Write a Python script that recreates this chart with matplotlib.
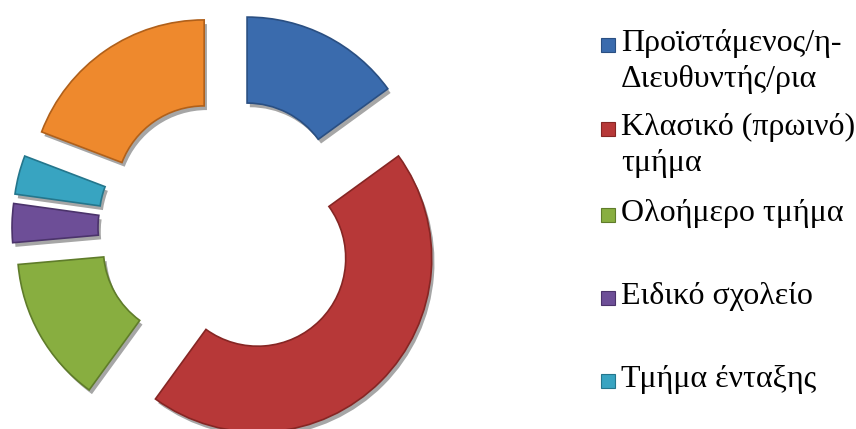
import matplotlib.pyplot as plt
from matplotlib.patches import Rectangle
import matplotlib.patheffects as pe

plt.rcParams["font.family"] = ["Liberation Serif", "DejaVu Serif"]

# share of each role (percent)
categories = [
    "Προϊστάμενος/η-\nΔιευθυντής/ρια",
    "Κλασικό (πρωινό)\nτμήμα",
    "Ολοήμερο τμήμα",
    "Ειδικό σχολείο",
    "Τμήμα ένταξης",
    "Άλλο",
]
values = [15.0, 45.0, 13.6, 3.6, 3.6, 19.2]
colors = ["#3A6BAD", "#B73838", "#88AE40", "#6D4E97", "#38A4C1", "#EE892D"]
edge_colors = ["#2A4F82", "#862624", "#5F7C2A", "#4B336B", "#24768C", "#B0601A"]
# the last slice is not listed in the legend
n_legend = 5

W, H = 856, 429
fig = plt.figure(figsize=(W / 100, H / 100), dpi=100)
ax = fig.add_axes([0, 0, 1, 1])

cx, cy = 228, H - 228.5
radius = 174
ring = 86
offset = 42

wedges, _ = ax.pie(
    values,
    colors=colors,
    startangle=90,
    counterclock=False,
    radius=radius,
    center=(cx, cy),
    explode=[offset] * len(values),
    wedgeprops=dict(width=ring, linewidth=1.2),
)
for w, ec in zip(wedges, edge_colors):
    w.set_edgecolor(ec)
    w.set_path_effects([
        pe.SimplePatchShadow(offset=(2, -3), alpha=0.35, shadow_rgbFace="k"),
        pe.Normal(),
    ])

ax.set_xlim(0, W)
ax.set_ylim(0, H)
ax.set_aspect("equal")
ax.axis("off")

# legend drawn by hand so multi-line entries sit like the chart tool's
line_y = [45, 129, 215, 298, 381]
box = 14
for i in range(n_legend):
    y = H - line_y[i]
    ax.add_patch(Rectangle((601, y - box / 2), box, box,
                           facecolor=colors[i], edgecolor=edge_colors[i], lw=0.8))
    ax.text(621, y + 16, categories[i], ha="left", va="top",
            fontsize=23, linespacing=1.3, color="black")

fig.savefig("out.png", dpi=100)
